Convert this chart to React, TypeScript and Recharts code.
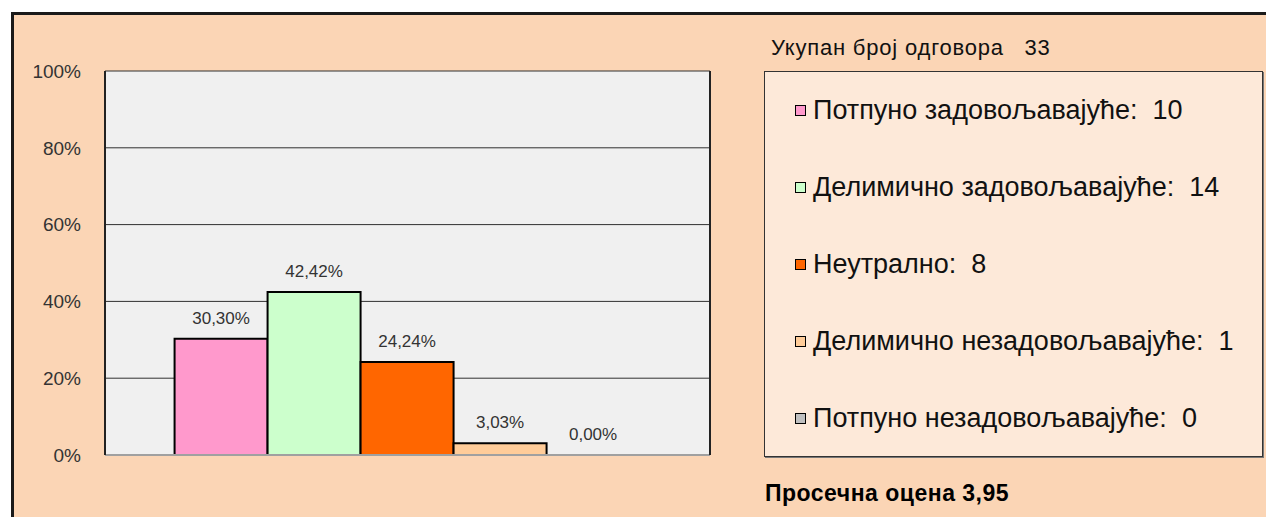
import React from 'react';
import { BarChart, Bar, XAxis, YAxis, CartesianGrid, LabelList } from 'recharts';

const categories = [
  'Потпуно задовољавајуће',
  'Делимично задовољавајуће',
  'Неутрално',
  'Делимично незадовољавајуће',
  'Потпуно незадовољавајуће',
];
const counts = [10, 14, 8, 1, 0];
const percents = [30.3, 42.42, 24.24, 3.03, 0.0];
const colors = ['#FF99CC', '#CCFFCC', '#FF6600', '#FFCC99', '#C0C0C0'];
const yTicks = [0, 20, 40, 60, 80, 100];
const totalLabel = 'Укупан број одговора';
const total = 33;
const avgLabel = 'Просечна оцена';
const avg = '3,95';

const row: Record<string, number | string> = { name: '' };
percents.forEach((p, i) => {
  row['s' + i] = p;
});
const data = [row];

const fmt = (v: number) => v.toFixed(2).replace('.', ',') + '%';
const FONT = '"Liberation Sans", Arial, sans-serif';

export default function App() {
  return (
    <div style={{ position: 'absolute', left: 0, top: 0, width: 1266, height: 517, overflow: 'hidden', background: '#fff', fontFamily: FONT }}>
      <div style={{ position: 'absolute', left: 11, top: 12, width: 1400, height: 700, background: '#FBD5B5', borderTop: '3px solid #1a1a1a', borderLeft: '3px solid #1a1a1a' }} />
      <div style={{ position: 'absolute', left: 0, top: 0 }}>
        <BarChart width={740} height={517} data={data} margin={{ top: 71, right: 29, bottom: 61, left: 35 }} barCategoryGap="11.5%" barGap={0}>
          <CartesianGrid yAxisId="l" vertical={false} stroke="#303030" fill="#F0F0F0" strokeWidth={1} />
          <XAxis dataKey="name" tick={false} tickLine={false} axisLine={{ stroke: '#A0A0A0', strokeWidth: 2 }} height={1} />
          <YAxis yAxisId="l" domain={[0, 100]} ticks={yTicks} tickFormatter={(v: number) => v + '%'} width={70} tickLine={false} tickSize={0} tickMargin={24} axisLine={{ stroke: '#222', strokeWidth: 2 }} tick={{ fill: '#333', fontSize: 19, fontFamily: FONT }} />
          <YAxis yAxisId="r" orientation="right" domain={[0, 100]} ticks={yTicks} width={1} tick={false} tickLine={false} axisLine={{ stroke: '#222', strokeWidth: 2 }} />
          {categories.map((c, i) => (
            <Bar key={c} yAxisId="l" dataKey={'s' + i} name={c} fill={colors[i]} stroke="#000" strokeWidth={2} minPointSize={0.001} isAnimationActive={false}>
              <LabelList dataKey={'s' + i} position="top" offset={15} formatter={(v: any) => fmt(Number(v))} style={{ fill: '#333', fontSize: 17, fontFamily: FONT }} stroke="none" />
            </Bar>
          ))}
        </BarChart>
      </div>
      <div style={{ position: 'absolute', left: 771, top: 35, fontSize: 22, letterSpacing: 0.8, lineHeight: '26px', color: '#111', whiteSpace: 'pre' }}>
        {totalLabel + '   ' + total}
      </div>
      <div style={{ position: 'absolute', left: 764, top: 71, width: 497, height: 384, background: '#FDE9D9', border: '1px solid #333', boxShadow: '1px 1px 0 #777' }} />
      {categories.map((c, i) => (
        <div key={c} style={{ position: 'absolute', left: 795, top: 110 + 77 * i - 17, height: 34, display: 'flex', alignItems: 'center', whiteSpace: 'pre', fontSize: 27, color: '#111' }}>
          <span style={{ display: 'inline-block', width: 9, height: 9, background: colors[i], border: '1.5px solid #000', marginRight: 7 }} />
          <span style={{ lineHeight: '34px' }}>{c + ':  ' + counts[i]}</span>
        </div>
      ))}
      <div style={{ position: 'absolute', left: 765, top: 479, fontSize: 23, letterSpacing: 0.5, lineHeight: '28px', fontWeight: 'bold', color: '#000', whiteSpace: 'pre' }}>
        {avgLabel + ' ' + avg}
      </div>
    </div>
  );
}
